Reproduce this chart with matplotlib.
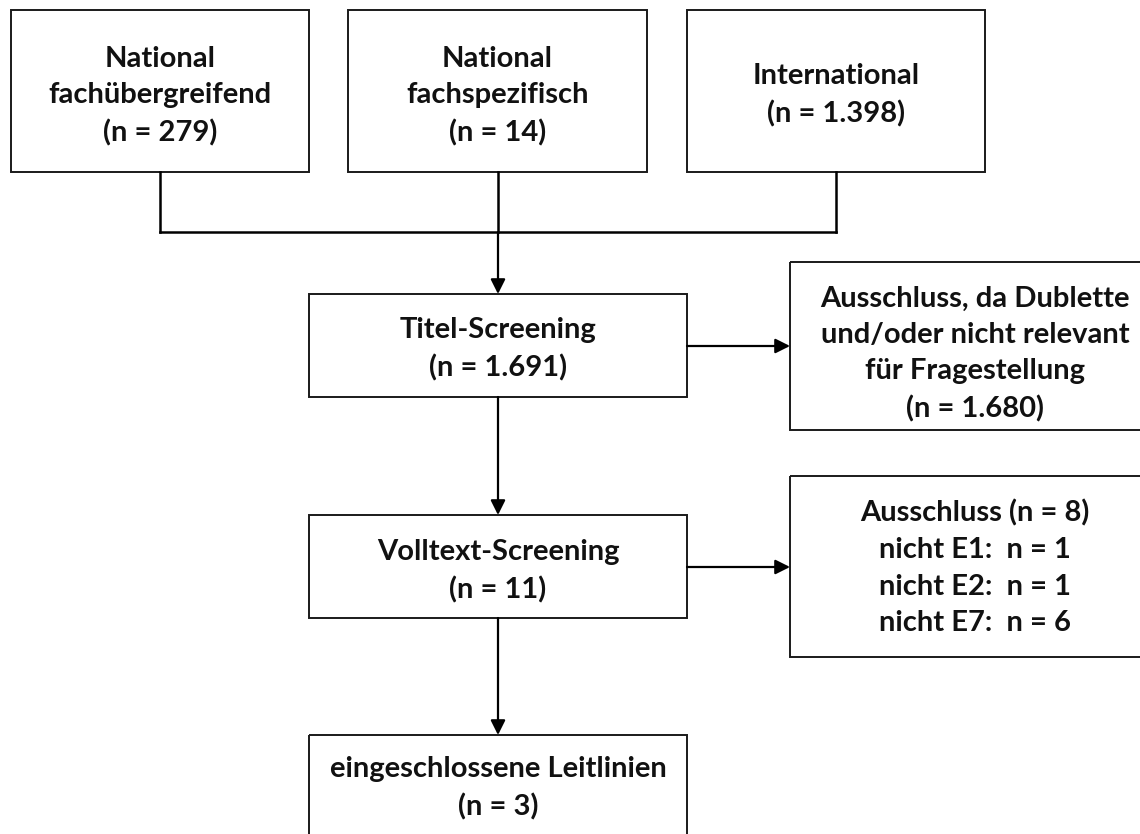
import matplotlib.pyplot as plt
from matplotlib.patches import Rectangle

# Inhalte des Flussdiagramms
quellen = ['National\nfachübergreifend', 'National\nfachspezifisch', 'International']
quellen_n = ['279', '14', '1.398']
stufen = ['Titel-Screening', 'Volltext-Screening', 'eingeschlossene Leitlinien']
stufen_n = ['1.691', '11', '3']
ausschluss_titel = 'Ausschluss, da Dublette\nund/oder nicht relevant\nfür Fragestellung'
ausschluss_titel_n = '1.680'
ausschluss_volltext_n = '8'
ausschluss_gruende = ['E1', 'E2', 'E7']
ausschluss_gruende_n = ['1', '1', '6']

plt.rcParams['font.family'] = ['Lato', 'DejaVu Sans']

fig = plt.figure(figsize=(11.4, 8.34), dpi=100)
ax = fig.add_axes([0, 0, 1, 1])
ax.set_xlim(0, 1140)
ax.set_ylim(834, 0)
ax.axis('off')

FS = 21
LS = 1.5


def box(x0, y0, x1, y1, text, ty):
    ax.add_patch(Rectangle((x0, y0), x1 - x0, y1 - y0, fill=False,
                           edgecolor='#1a1a1a', linewidth=1.4, clip_on=False))
    ax.text((x0 + x1) / 2, ty, text, ha='center', va='center', fontsize=FS,
            fontweight='bold', linespacing=LS, color='#111111')


def pfeil(x0, y0, x1, y1):
    ax.annotate('', xy=(x1, y1), xytext=(x0, y0),
                arrowprops=dict(arrowstyle='-|>', color='black', lw=1.6,
                                mutation_scale=22, shrinkA=0, shrinkB=0))


# obere Reihe: Quellen
oben_x = [(11, 309), (348, 647), (687, 985)]
oben_ty = [96, 96, 95]
for (x0, x1), lab, n, ty in zip(oben_x, quellen, quellen_n, oben_ty):
    box(x0, 10, x1, 172, f'{lab}\n(n = {n})', ty)

# Verbindungslinien
mitte = [(x0 + x1) / 2 for x0, x1 in oben_x]
for xm in mitte:
    ax.plot([xm, xm], [172, 232], color='black', lw=1.8)
ax.plot([mitte[0], mitte[2]], [232, 232], color='black', lw=1.8)

# mittlere Spalte
sx0, sx1 = 309, 687
sxm = (sx0 + sx1) / 2
stufen_y = [(294, 397), (515, 618), (735, 860)]
stufen_ty = [349, 571, 788]
for (y0, y1), lab, n, ty in zip(stufen_y, stufen, stufen_n, stufen_ty):
    box(sx0, y0, sx1, y1, f'{lab}\n(n = {n})', ty)

pfeil(sxm, 232, sxm, stufen_y[0][0])
pfeil(sxm, stufen_y[0][1], sxm, stufen_y[1][0])
pfeil(sxm, stufen_y[1][1], sxm, stufen_y[2][0])

# Ausschlussboxen rechts
rx0, rx1 = 790, 1160
box(rx0, 262, rx1, 430, f'{ausschluss_titel}\n(n = {ausschluss_titel_n})', 354)
zeilen = [f'Ausschluss (n = {ausschluss_volltext_n})']
zeilen += [f'nicht {e}:  n = {k}' for e, k in zip(ausschluss_gruende, ausschluss_gruende_n)]
box(rx0, 476, rx1, 657, '\n'.join(zeilen), 568)

pfeil(sx1, 346, rx0, 346)
pfeil(sx1, 567, rx0, 567)

fig.savefig('out.png', dpi=100)
